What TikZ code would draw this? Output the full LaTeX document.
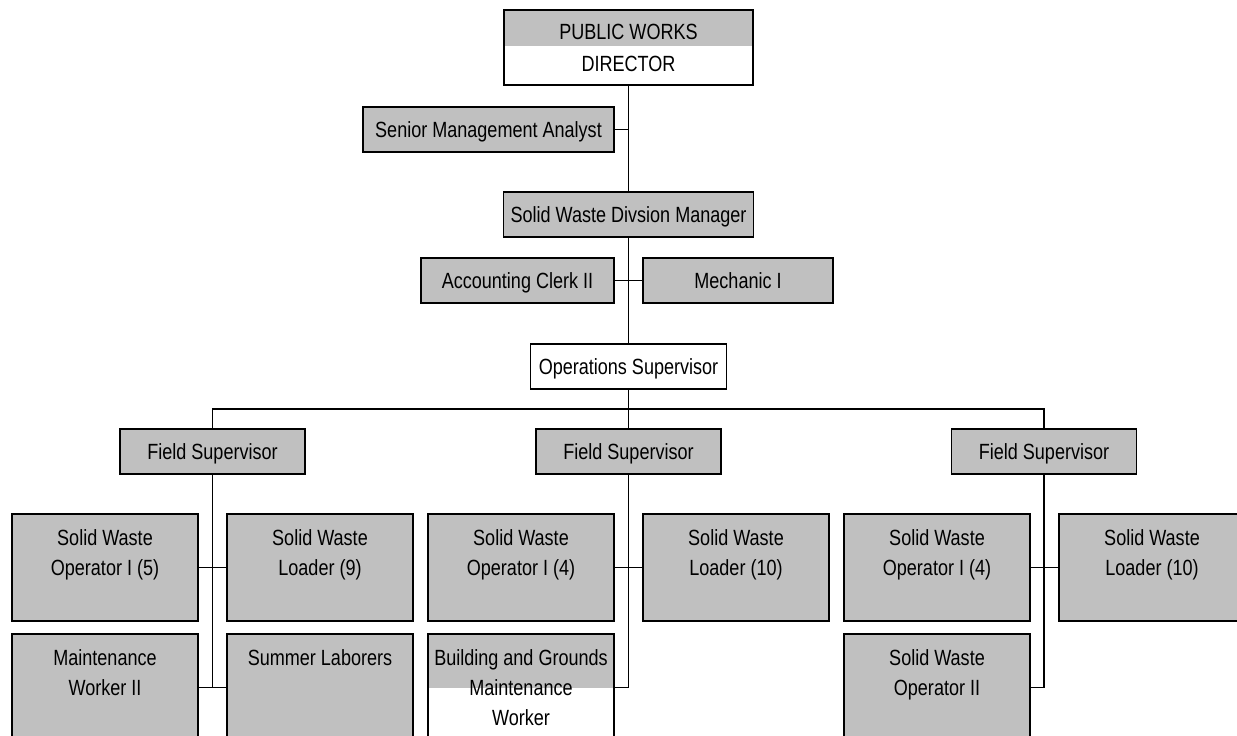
\documentclass[tikz,border=0pt]{standalone}
\usepackage{fontspec}
\setmainfont{Liberation Sans}[FakeStretch=0.82]
\definecolor{boxgray}{RGB}{192,192,192}
\newcommand{\tallbox}[1]{\parbox[c][107pt][t]{186pt}{\centering\rule{0pt}{31pt}#1}}
\begin{document}
\begin{tikzpicture}[x=1pt,y=-1pt,line width=1.3pt,
  box/.style={draw=black,fill=boxgray,rectangle,inner sep=0pt,outer sep=0pt,align=center,
    font=\fontsize{22}{30}\selectfont},
  wide/.style={box,minimum height=45pt,text height=19pt,text depth=3pt},
  tall/.style={box},
  halfgray/.style={fill=white,path picture={\fill[boxgray] (path picture bounding box.north west) rectangle ([yshift=-#1]path picture bounding box.north east);}},
  conn/.style={draw=black,line width=1.3pt}]
\useasboundingbox (0,0) rectangle (1237,736);
\clip (0,0) rectangle (1237,736);

% top levels
\node[box,halfgray=36pt,minimum width=249pt,minimum height=75pt,font=\fontsize{22}{32}\selectfont] (dir) at (628.5,47.5) {PUBLIC WORKS\\DIRECTOR};
\node[wide,minimum width=251pt] (sma) at (488.5,129.5) {Senior Management Analyst};
\node[wide,minimum width=250pt] (swdm) at (628.5,214.5) {Solid Waste Divsion Manager};
\node[wide,minimum width=193pt] (acc) at (517.5,280.5) {Accounting Clerk II};
\node[wide,minimum width=190pt] (mech) at (738,280.5) {Mechanic I};
\node[wide,fill=white,minimum width=196pt] (ops) at (628.5,366.5) {Operations Supervisor};

% field supervisors
\node[wide,minimum width=185pt] (fs1) at (212.5,451.5) {Field Supervisor};
\node[wide,minimum width=185pt] (fs2) at (628.5,451.5) {Field Supervisor};
\node[wide,minimum width=185pt] (fs3) at (1044,451.5) {Field Supervisor};

% left group
\node[tall] (so5) at (105,567.5) {\tallbox{Solid Waste\\Operator I (5)}};
\node[tall] (ld9) at (320,567.5) {\tallbox{Solid Waste\\Loader (9)}};
\node[tall] (mw2) at (105,687.5) {\tallbox{Maintenance\\Worker II}};
\node[tall] (sl) at (320,687.5) {\tallbox{Summer Laborers}};

% middle group
\node[tall] (so4a) at (521,567.5) {\tallbox{Solid Waste\\Operator I (4)}};
\node[tall] (ld10a) at (736,567.5) {\tallbox{Solid Waste\\Loader (10)}};
\node[tall,halfgray=54pt] (bg) at (521,687.5) {\tallbox{Building and Grounds\\Maintenance\\Worker}};

% right group
\node[tall] (so4b) at (937,567.5) {\tallbox{Solid Waste\\Operator I (4)}};
\node[tall] (ld10b) at (1152,567.5) {\tallbox{Solid Waste\\Loader (10)}};
\node[tall] (so2) at (937,687.5) {\tallbox{Solid Waste\\Operator II}};

% connectors
\draw[conn] (dir.south) -- (swdm.north);
\draw[conn] (sma.east) -- (sma.east -| dir.south);
\draw[conn] (swdm.south) -- (ops.north);
\draw[conn] (acc.east) -- (mech.west);
\draw[conn] (ops.south) -- (fs2.north);
\draw[conn] (fs1.north) -- ++(0,-20) -| (fs3.north);

\draw[conn] (fs1.south) -- (fs1.south |- mw2.east);
\draw[conn] (so5.east) -- (ld9.west);
\draw[conn] (mw2.east) -- (sl.west);

\draw[conn] (fs2.south) -- (fs2.south |- bg.east) -- (bg.east);
\draw[conn] (so4a.east) -- (ld10a.west);

\draw[conn] (fs3.south) -- (fs3.south |- so2.east) -- (so2.east);
\draw[conn] (so4b.east) -- (ld10b.west);
\end{tikzpicture}
\end{document}
